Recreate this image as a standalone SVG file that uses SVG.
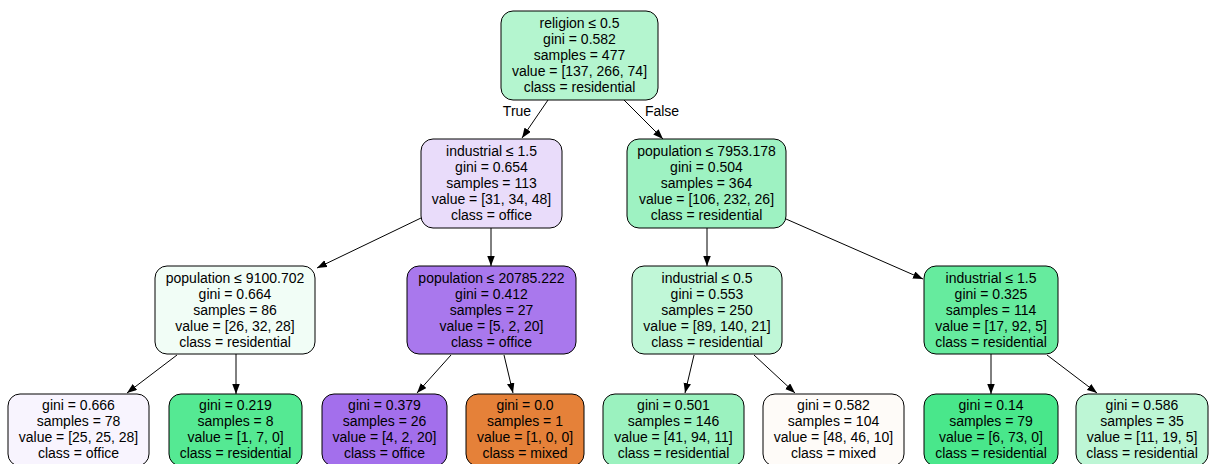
<svg xmlns="http://www.w3.org/2000/svg" width="1209" height="464" viewBox="0 0 1209 464">
<defs>
<style>
.n rect{stroke:#000;stroke-width:1}
text{font-family:"Liberation Sans",Arial,Helvetica,sans-serif;font-size:14px;fill:#000;text-anchor:middle}
.e line{stroke:#000;stroke-width:1;marker-end:url(#ah)}
</style>
<marker id="ah" markerUnits="userSpaceOnUse" markerWidth="11" markerHeight="8" refX="10" refY="3.75" orient="auto">
<path d="M0,0 L10,3.75 L0,7.5 z" fill="#000"/>
</marker>
</defs>
<rect width="1209" height="464" fill="#fff"/>
<g id="connectors" class="e">
<line x1="548" y1="100" x2="522" y2="138"/>
<line x1="624" y1="100" x2="663" y2="139"/>
<line x1="421" y1="218" x2="317" y2="268"/>
<line x1="491" y1="228" x2="491" y2="266"/>
<line x1="707" y1="228" x2="707" y2="266"/>
<line x1="786" y1="219" x2="923" y2="279"/>
<line x1="177" y1="355" x2="127" y2="393"/>
<line x1="236" y1="354" x2="236" y2="394"/>
<line x1="451" y1="355" x2="417" y2="393"/>
<line x1="504" y1="355" x2="513" y2="393"/>
<line x1="694" y1="355" x2="685" y2="393"/>
<line x1="754" y1="355" x2="795" y2="393"/>
<line x1="991" y1="354" x2="991" y2="394"/>
<line x1="1047" y1="355" x2="1097" y2="393"/>
<text x="517" y="116">True</text>
<text x="662" y="116">False</text>
</g>
<g id="root" class="n">
<rect x="501" y="11" width="157" height="89" rx="12" fill="#b4f5cf"/>
<text x="579.5" y="28">religion ≤ 0.5</text>
<text x="579.5" y="44">gini = 0.582</text>
<text x="579.5" y="60">samples = 477</text>
<text x="579.5" y="76">value = [137, 266, 74]</text>
<text x="579.5" y="92">class = residential</text>
</g>
<g id="nodeA" class="n">
<rect x="421" y="139" width="141" height="89" rx="12" fill="#e9dcfa"/>
<text x="491.5" y="156">industrial ≤ 1.5</text>
<text x="491.5" y="172">gini = 0.654</text>
<text x="491.5" y="188">samples = 113</text>
<text x="491.5" y="204">value = [31, 34, 48]</text>
<text x="491.5" y="220">class = office</text>
</g>
<g id="nodeB" class="n">
<rect x="627" y="139" width="159" height="89" rx="12" fill="#9ef2c2"/>
<text x="706.5" y="156">population ≤ 7953.178</text>
<text x="706.5" y="172">gini = 0.504</text>
<text x="706.5" y="188">samples = 364</text>
<text x="706.5" y="204">value = [106, 232, 26]</text>
<text x="706.5" y="220">class = residential</text>
</g>
<g id="nodeC" class="n">
<rect x="155" y="266" width="160" height="88" rx="12" fill="#f1fdf6"/>
<text x="235" y="283">population ≤ 9100.702</text>
<text x="235" y="299">gini = 0.664</text>
<text x="235" y="315">samples = 86</text>
<text x="235" y="331">value = [26, 32, 28]</text>
<text x="235" y="347">class = residential</text>
</g>
<g id="nodeD" class="n">
<rect x="407" y="266" width="169" height="88" rx="12" fill="#a978ed"/>
<text x="491.5" y="283">population ≤ 20785.222</text>
<text x="491.5" y="299">gini = 0.412</text>
<text x="491.5" y="315">samples = 27</text>
<text x="491.5" y="331">value = [5, 2, 20]</text>
<text x="491.5" y="347">class = office</text>
</g>
<g id="nodeE" class="n">
<rect x="632" y="266" width="150" height="88" rx="12" fill="#c0f7d7"/>
<text x="707" y="283">industrial ≤ 0.5</text>
<text x="707" y="299">gini = 0.553</text>
<text x="707" y="315">samples = 250</text>
<text x="707" y="331">value = [89, 140, 21]</text>
<text x="707" y="347">class = residential</text>
</g>
<g id="nodeF" class="n">
<rect x="924" y="266" width="134" height="88" rx="12" fill="#66eb9e"/>
<text x="991" y="283">industrial ≤ 1.5</text>
<text x="991" y="299">gini = 0.325</text>
<text x="991" y="315">samples = 114</text>
<text x="991" y="331">value = [17, 92, 5]</text>
<text x="991" y="347">class = residential</text>
</g>
<g id="leaf1" class="n">
<rect x="8" y="394" width="141" height="72" rx="12" fill="#f8f4fe"/>
<text x="78.5" y="410">gini = 0.666</text>
<text x="78.5" y="426">samples = 78</text>
<text x="78.5" y="442">value = [25, 25, 28]</text>
<text x="78.5" y="458">class = office</text>
</g>
<g id="leaf2" class="n">
<rect x="169" y="394" width="133" height="72" rx="12" fill="#55e993"/>
<text x="235.5" y="410">gini = 0.219</text>
<text x="235.5" y="426">samples = 8</text>
<text x="235.5" y="442">value = [1, 7, 0]</text>
<text x="235.5" y="458">class = residential</text>
</g>
<g id="leaf3" class="n">
<rect x="322" y="394" width="125" height="72" rx="12" fill="#a36fec"/>
<text x="384.5" y="410">gini = 0.379</text>
<text x="384.5" y="426">samples = 26</text>
<text x="384.5" y="442">value = [4, 2, 20]</text>
<text x="384.5" y="458">class = office</text>
</g>
<g id="leaf4" class="n">
<rect x="466" y="394" width="118" height="72" rx="12" fill="#e58139"/>
<text x="525" y="410">gini = 0.0</text>
<text x="525" y="426">samples = 1</text>
<text x="525" y="442">value = [1, 0, 0]</text>
<text x="525" y="458">class = mixed</text>
</g>
<g id="leaf5" class="n">
<rect x="603" y="394" width="141" height="72" rx="12" fill="#9bf2bf"/>
<text x="673.5" y="410">gini = 0.501</text>
<text x="673.5" y="426">samples = 146</text>
<text x="673.5" y="442">value = [41, 94, 11]</text>
<text x="673.5" y="458">class = residential</text>
</g>
<g id="leaf6" class="n">
<rect x="763" y="394" width="141" height="72" rx="12" fill="#fefbf8"/>
<text x="833.5" y="410">gini = 0.582</text>
<text x="833.5" y="426">samples = 104</text>
<text x="833.5" y="442">value = [48, 46, 10]</text>
<text x="833.5" y="458">class = mixed</text>
</g>
<g id="leaf7" class="n">
<rect x="924" y="394" width="134" height="72" rx="12" fill="#49e78b"/>
<text x="991" y="410">gini = 0.14</text>
<text x="991" y="426">samples = 79</text>
<text x="991" y="442">value = [6, 73, 0]</text>
<text x="991" y="458">class = residential</text>
</g>
<g id="leaf8" class="n">
<rect x="1076" y="394" width="132" height="72" rx="12" fill="#bdf6d5"/>
<text x="1142" y="410">gini = 0.586</text>
<text x="1142" y="426">samples = 35</text>
<text x="1142" y="442">value = [11, 19, 5]</text>
<text x="1142" y="458">class = residential</text>
</g>
</svg>
